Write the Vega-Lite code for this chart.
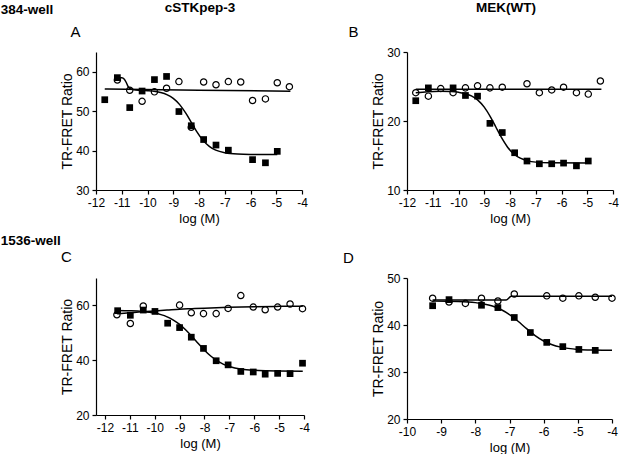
{
  "$schema": "https://vega.github.io/schema/vega-lite/v6.json",
  "background": "white",
  "padding": {"left": 0, "top": 0, "right": 0, "bottom": 0},
  "config": {
    "font": "Liberation Sans",
    "view": {"stroke": null},
    "axis": {"grid": false, "domainColor": "black", "tickColor": "black", "labelColor": "black", "titleColor": "black", "labelFontSize": 12, "titleFontWeight": "normal", "tickSize": 4, "domainWidth": 1.2, "tickWidth": 1.2, "labelPadding": 3, "labelFlush": false, "labelOverlap": false, "labelExpr": "toString(datum.value)"},
    "axisY": {"titlePadding": 1, "titleFontSize": 14},
    "axisX": {"titlePadding": 4, "titleFontSize": 13},
    "title": {"color": "black"}
  },
  "datasets": {
    "points": [
      {"panel": "A", "series": "sq", "x": -11.66, "y": 52.9},
      {"panel": "A", "series": "sq", "x": -11.17, "y": 58.5},
      {"panel": "A", "series": "sq", "x": -10.69, "y": 50.9},
      {"panel": "A", "series": "sq", "x": -10.21, "y": 55.1},
      {"panel": "A", "series": "sq", "x": -9.73, "y": 58.0},
      {"panel": "A", "series": "sq", "x": -9.26, "y": 58.8},
      {"panel": "A", "series": "sq", "x": -8.78, "y": 49.9},
      {"panel": "A", "series": "sq", "x": -8.30, "y": 46.3},
      {"panel": "A", "series": "sq", "x": -7.82, "y": 42.8},
      {"panel": "A", "series": "sq", "x": -7.34, "y": 41.4},
      {"panel": "A", "series": "sq", "x": -6.86, "y": 40.1},
      {"panel": "A", "series": "sq", "x": -5.92, "y": 37.7},
      {"panel": "A", "series": "sq", "x": -5.42, "y": 36.9},
      {"panel": "A", "series": "sq", "x": -4.96, "y": 39.8},
      {"panel": "A", "series": "ci", "x": -11.17, "y": 57.9},
      {"panel": "A", "series": "ci", "x": -10.69, "y": 55.3},
      {"panel": "A", "series": "ci", "x": -10.21, "y": 52.5},
      {"panel": "A", "series": "ci", "x": -9.73, "y": 54.9},
      {"panel": "A", "series": "ci", "x": -9.26, "y": 55.8},
      {"panel": "A", "series": "ci", "x": -8.78, "y": 57.5},
      {"panel": "A", "series": "ci", "x": -8.30, "y": 45.9},
      {"panel": "A", "series": "ci", "x": -7.82, "y": 57.4},
      {"panel": "A", "series": "ci", "x": -7.34, "y": 56.7},
      {"panel": "A", "series": "ci", "x": -6.86, "y": 57.5},
      {"panel": "A", "series": "ci", "x": -6.38, "y": 57.4},
      {"panel": "A", "series": "ci", "x": -5.92, "y": 52.7},
      {"panel": "A", "series": "ci", "x": -5.42, "y": 53.1},
      {"panel": "A", "series": "ci", "x": -4.96, "y": 57.2},
      {"panel": "A", "series": "ci", "x": -4.49, "y": 56.2},

      {"panel": "B", "series": "sq", "x": -11.66, "y": 22.94},
      {"panel": "B", "series": "sq", "x": -11.17, "y": 24.8},
      {"panel": "B", "series": "sq", "x": -10.21, "y": 24.8},
      {"panel": "B", "series": "sq", "x": -9.73, "y": 23.7},
      {"panel": "B", "series": "sq", "x": -9.26, "y": 23.6},
      {"panel": "B", "series": "sq", "x": -8.78, "y": 19.66},
      {"panel": "B", "series": "sq", "x": -8.30, "y": 18.33},
      {"panel": "B", "series": "sq", "x": -7.82, "y": 15.4},
      {"panel": "B", "series": "sq", "x": -7.34, "y": 14.2},
      {"panel": "B", "series": "sq", "x": -6.86, "y": 13.8},
      {"panel": "B", "series": "sq", "x": -6.38, "y": 13.8},
      {"panel": "B", "series": "sq", "x": -5.92, "y": 13.9},
      {"panel": "B", "series": "sq", "x": -5.42, "y": 13.5},
      {"panel": "B", "series": "sq", "x": -4.96, "y": 14.2},
      {"panel": "B", "series": "ci", "x": -11.66, "y": 24.1},
      {"panel": "B", "series": "ci", "x": -11.17, "y": 23.6},
      {"panel": "B", "series": "ci", "x": -10.69, "y": 24.7},
      {"panel": "B", "series": "ci", "x": -10.21, "y": 24.1},
      {"panel": "B", "series": "ci", "x": -9.73, "y": 24.8},
      {"panel": "B", "series": "ci", "x": -9.26, "y": 25.1},
      {"panel": "B", "series": "ci", "x": -8.78, "y": 24.8},
      {"panel": "B", "series": "ci", "x": -8.30, "y": 24.9},
      {"panel": "B", "series": "ci", "x": -7.34, "y": 25.4},
      {"panel": "B", "series": "ci", "x": -6.86, "y": 24.1},
      {"panel": "B", "series": "ci", "x": -6.38, "y": 24.5},
      {"panel": "B", "series": "ci", "x": -5.92, "y": 24.9},
      {"panel": "B", "series": "ci", "x": -5.42, "y": 24.1},
      {"panel": "B", "series": "ci", "x": -4.96, "y": 23.9},
      {"panel": "B", "series": "ci", "x": -4.49, "y": 25.8},

      {"panel": "C", "series": "sq", "x": -11.49, "y": 58.07},
      {"panel": "C", "series": "sq", "x": -10.98, "y": 56.4},
      {"panel": "C", "series": "sq", "x": -10.46, "y": 58.3},
      {"panel": "C", "series": "sq", "x": -9.99, "y": 57.8},
      {"panel": "C", "series": "sq", "x": -9.48, "y": 53.5},
      {"panel": "C", "series": "sq", "x": -9.0, "y": 51.9},
      {"panel": "C", "series": "sq", "x": -8.53, "y": 48.4},
      {"panel": "C", "series": "sq", "x": -8.04, "y": 44.3},
      {"panel": "C", "series": "sq", "x": -7.53, "y": 39.8},
      {"panel": "C", "series": "sq", "x": -7.05, "y": 38.3},
      {"panel": "C", "series": "sq", "x": -6.54, "y": 35.9},
      {"panel": "C", "series": "sq", "x": -6.04, "y": 35.7},
      {"panel": "C", "series": "sq", "x": -5.56, "y": 34.9},
      {"panel": "C", "series": "sq", "x": -5.06, "y": 35.2},
      {"panel": "C", "series": "sq", "x": -4.56, "y": 35.1},
      {"panel": "C", "series": "sq", "x": -4.06, "y": 38.9},
      {"panel": "C", "series": "ci", "x": -11.52, "y": 56.6},
      {"panel": "C", "series": "ci", "x": -10.98, "y": 53.4},
      {"panel": "C", "series": "ci", "x": -10.46, "y": 59.8},
      {"panel": "C", "series": "ci", "x": -9.0, "y": 60.1},
      {"panel": "C", "series": "ci", "x": -8.53, "y": 57.3},
      {"panel": "C", "series": "ci", "x": -8.04, "y": 57.0},
      {"panel": "C", "series": "ci", "x": -7.53, "y": 57.0},
      {"panel": "C", "series": "ci", "x": -7.05, "y": 58.9},
      {"panel": "C", "series": "ci", "x": -6.54, "y": 63.6},
      {"panel": "C", "series": "ci", "x": -6.04, "y": 59.4},
      {"panel": "C", "series": "ci", "x": -5.56, "y": 58.4},
      {"panel": "C", "series": "ci", "x": -5.06, "y": 59.4},
      {"panel": "C", "series": "ci", "x": -4.56, "y": 60.5},
      {"panel": "C", "series": "ci", "x": -4.06, "y": 58.8},

      {"panel": "D", "series": "sq", "x": -9.25, "y": 44.1},
      {"panel": "D", "series": "sq", "x": -8.77, "y": 45.4},
      {"panel": "D", "series": "sq", "x": -7.82, "y": 44.2},
      {"panel": "D", "series": "sq", "x": -7.34, "y": 43.7},
      {"panel": "D", "series": "sq", "x": -6.86, "y": 41.6},
      {"panel": "D", "series": "sq", "x": -6.39, "y": 38.4},
      {"panel": "D", "series": "sq", "x": -5.91, "y": 36.3},
      {"panel": "D", "series": "sq", "x": -5.44, "y": 35.4},
      {"panel": "D", "series": "sq", "x": -4.97, "y": 34.8},
      {"panel": "D", "series": "sq", "x": -4.49, "y": 34.6},
      {"panel": "D", "series": "ci", "x": -9.25, "y": 45.7},
      {"panel": "D", "series": "ci", "x": -8.77, "y": 44.9},
      {"panel": "D", "series": "ci", "x": -8.29, "y": 44.6},
      {"panel": "D", "series": "ci", "x": -7.82, "y": 45.7},
      {"panel": "D", "series": "ci", "x": -7.34, "y": 45.1},
      {"panel": "D", "series": "ci", "x": -6.86, "y": 46.6},
      {"panel": "D", "series": "ci", "x": -5.91, "y": 46.2},
      {"panel": "D", "series": "ci", "x": -5.44, "y": 45.7},
      {"panel": "D", "series": "ci", "x": -4.97, "y": 46.2},
      {"panel": "D", "series": "ci", "x": -4.49, "y": 45.9},
      {"panel": "D", "series": "ci", "x": -4.0, "y": 45.7}
    ],
    "curves": [
      {"panel": "A", "series": "ci", "x": -11.66, "y": 55.6},
      {"panel": "A", "series": "ci", "x": -8.0, "y": 55.3},
      {"panel": "A", "series": "ci", "x": -4.45, "y": 55.05},
      {"panel": "A", "series": "sq", "x": -11.17, "y": 58.5},
      {"panel": "A", "series": "sq", "x": -11.0, "y": 58.45},
      {"panel": "A", "series": "sq", "x": -10.9, "y": 58.1},
      {"panel": "A", "series": "sq", "x": -10.82, "y": 57.2},
      {"panel": "A", "series": "sq", "x": -10.75, "y": 56.2},
      {"panel": "A", "series": "sq", "x": -10.65, "y": 55.6},
      {"panel": "A", "series": "sq", "x": -10.45, "y": 55.35},
      {"panel": "A", "series": "sq", "x": -10.0, "y": 55.2},
      {"panel": "A", "series": "sq", "x": -9.5, "y": 54.73},
      {"panel": "A", "series": "sq", "x": -9.25, "y": 54.2},
      {"panel": "A", "series": "sq", "x": -9.0, "y": 53.24},
      {"panel": "A", "series": "sq", "x": -8.75, "y": 51.65},
      {"panel": "A", "series": "sq", "x": -8.5, "y": 49.35},
      {"panel": "A", "series": "sq", "x": -8.3, "y": 47.15},
      {"panel": "A", "series": "sq", "x": -8.1, "y": 44.95},
      {"panel": "A", "series": "sq", "x": -7.85, "y": 42.65},
      {"panel": "A", "series": "sq", "x": -7.6, "y": 41.06},
      {"panel": "A", "series": "sq", "x": -7.35, "y": 40.1},
      {"panel": "A", "series": "sq", "x": -7.0, "y": 39.44},
      {"panel": "A", "series": "sq", "x": -6.5, "y": 39.11},
      {"panel": "A", "series": "sq", "x": -6.0, "y": 39.03},
      {"panel": "A", "series": "sq", "x": -4.96, "y": 39.0},

      {"panel": "B", "series": "ci", "x": -11.66, "y": 24.6},
      {"panel": "B", "series": "ci", "x": -4.45, "y": 24.6},
      {"panel": "B", "series": "sq", "x": -11.66, "y": 24.1},
      {"panel": "B", "series": "sq", "x": -11.2, "y": 24.25},
      {"panel": "B", "series": "sq", "x": -10.7, "y": 24.32},
      {"panel": "B", "series": "sq", "x": -10.3, "y": 24.27},
      {"panel": "B", "series": "sq", "x": -10.0, "y": 24.16},
      {"panel": "B", "series": "sq", "x": -9.5, "y": 23.64},
      {"panel": "B", "series": "sq", "x": -9.25, "y": 23.03},
      {"panel": "B", "series": "sq", "x": -9.0, "y": 22.01},
      {"panel": "B", "series": "sq", "x": -8.75, "y": 20.53},
      {"panel": "B", "series": "sq", "x": -8.55, "y": 19.13},
      {"panel": "B", "series": "sq", "x": -8.35, "y": 17.72},
      {"panel": "B", "series": "sq", "x": -8.1, "y": 16.24},
      {"panel": "B", "series": "sq", "x": -7.85, "y": 15.22},
      {"panel": "B", "series": "sq", "x": -7.6, "y": 14.61},
      {"panel": "B", "series": "sq", "x": -7.3, "y": 14.22},
      {"panel": "B", "series": "sq", "x": -7.0, "y": 14.04},
      {"panel": "B", "series": "sq", "x": -6.5, "y": 13.94},
      {"panel": "B", "series": "sq", "x": -4.96, "y": 13.9},

      {"panel": "C", "series": "ci", "x": -11.5, "y": 56.9},
      {"panel": "C", "series": "ci", "x": -11.0, "y": 57.3},
      {"panel": "C", "series": "ci", "x": -10.5, "y": 57.7},
      {"panel": "C", "series": "ci", "x": -10.0, "y": 58.0},
      {"panel": "C", "series": "ci", "x": -9.5, "y": 58.3},
      {"panel": "C", "series": "ci", "x": -9.0, "y": 58.6},
      {"panel": "C", "series": "ci", "x": -8.5, "y": 58.8},
      {"panel": "C", "series": "ci", "x": -8.0, "y": 59.0},
      {"panel": "C", "series": "ci", "x": -7.0, "y": 59.3},
      {"panel": "C", "series": "ci", "x": -6.0, "y": 59.5},
      {"panel": "C", "series": "ci", "x": -5.0, "y": 59.65},
      {"panel": "C", "series": "ci", "x": -4.05, "y": 59.7},
      {"panel": "C", "series": "sq", "x": -11.5, "y": 58.13},
      {"panel": "C", "series": "sq", "x": -11.0, "y": 58.03},
      {"panel": "C", "series": "sq", "x": -10.5, "y": 57.79},
      {"panel": "C", "series": "sq", "x": -10.0, "y": 57.19},
      {"panel": "C", "series": "sq", "x": -9.75, "y": 56.63},
      {"panel": "C", "series": "sq", "x": -9.5, "y": 55.82},
      {"panel": "C", "series": "sq", "x": -9.25, "y": 54.65},
      {"panel": "C", "series": "sq", "x": -9.0, "y": 53.05},
      {"panel": "C", "series": "sq", "x": -8.75, "y": 51.01},
      {"panel": "C", "series": "sq", "x": -8.5, "y": 48.62},
      {"panel": "C", "series": "sq", "x": -8.25, "y": 46.08},
      {"panel": "C", "series": "sq", "x": -8.0, "y": 43.64},
      {"panel": "C", "series": "sq", "x": -7.75, "y": 41.52},
      {"panel": "C", "series": "sq", "x": -7.5, "y": 39.84},
      {"panel": "C", "series": "sq", "x": -7.25, "y": 38.58},
      {"panel": "C", "series": "sq", "x": -7.0, "y": 37.71},
      {"panel": "C", "series": "sq", "x": -6.5, "y": 36.71},
      {"panel": "C", "series": "sq", "x": -6.0, "y": 36.29},
      {"panel": "C", "series": "sq", "x": -5.5, "y": 36.12},
      {"panel": "C", "series": "sq", "x": -5.0, "y": 36.05},
      {"panel": "C", "series": "sq", "x": -4.05, "y": 36.0},

      {"panel": "D", "series": "ci", "x": -9.25, "y": 45.3},
      {"panel": "D", "series": "ci", "x": -7.1, "y": 45.3},
      {"panel": "D", "series": "ci", "x": -6.95, "y": 46.1},
      {"panel": "D", "series": "ci", "x": -4.0, "y": 46.1},
      {"panel": "D", "series": "sq", "x": -9.25, "y": 45.08},
      {"panel": "D", "series": "sq", "x": -8.5, "y": 44.99},
      {"panel": "D", "series": "sq", "x": -8.0, "y": 44.76},
      {"panel": "D", "series": "sq", "x": -7.75, "y": 44.49},
      {"panel": "D", "series": "sq", "x": -7.5, "y": 44.03},
      {"panel": "D", "series": "sq", "x": -7.25, "y": 43.29},
      {"panel": "D", "series": "sq", "x": -7.0, "y": 42.21},
      {"panel": "D", "series": "sq", "x": -6.75, "y": 40.79},
      {"panel": "D", "series": "sq", "x": -6.5, "y": 39.22},
      {"panel": "D", "series": "sq", "x": -6.25, "y": 37.75},
      {"panel": "D", "series": "sq", "x": -6.0, "y": 36.59},
      {"panel": "D", "series": "sq", "x": -5.75, "y": 35.79},
      {"panel": "D", "series": "sq", "x": -5.5, "y": 35.29},
      {"panel": "D", "series": "sq", "x": -5.0, "y": 34.81},
      {"panel": "D", "series": "sq", "x": -4.5, "y": 34.67},
      {"panel": "D", "series": "sq", "x": -4.0, "y": 34.62}
    ]
  },
  "spacing": 8,
  "vconcat": [
    {
      "title": {"text": "384-well", "anchor": "start", "frame": "bounds", "dx": -60, "offset": -16, "fontSize": 13.5, "fontWeight": "bold"},
      "spacing": 40,
      "hconcat": [
        {
          "width": 206, "height": 138,
          "title": {"text": "cSTKpep-3", "anchor": "middle", "frame": "group", "dx": 1, "fontSize": 13.5, "fontWeight": "bold", "offset": 10},
          "resolve": {"axis": {"x": "independent"}},
          "encoding": {
            "y": {"field": "y", "type": "quantitative", "scale": {"domain": [30, 65], "nice": false, "zero": false}, "axis": {"values": [30, 40, 50, 60], "title": "TR-FRET Ratio"}}
          },
          "layer": [
            {"data": {"name": "curves"}, "transform": [{"filter": "datum.panel === 'A'"}], "mark": {"type": "line", "color": "black", "strokeWidth": 1.5, "interpolate": "monotone"},
             "encoding": {"x": {"field": "x", "type": "quantitative", "scale": {"domain": [-12, -4], "nice": false, "zero": false}, "axis": {"values": [-12, -11, -10, -9, -8, -7, -6, -5, -4], "title": "log (M)"}}, "detail": {"field": "series"}}},
            {"data": {"name": "points"}, "transform": [{"filter": "datum.panel === 'A' && datum.series === 'sq'"}], "mark": {"type": "point", "shape": "square", "filled": true, "color": "black", "size": 45, "opacity": 1},
             "encoding": {"x": {"field": "x", "type": "quantitative", "scale": {"domain": [-12, -4], "nice": false, "zero": false}, "axis": null}}},
            {"data": {"name": "points"}, "transform": [{"filter": "datum.panel === 'A' && datum.series === 'ci'"}], "mark": {"type": "point", "shape": "circle", "filled": false, "color": "black", "strokeWidth": 1.2, "size": 40, "opacity": 1},
             "encoding": {"x": {"field": "x", "type": "quantitative", "scale": {"domain": [-12, -4], "nice": false, "zero": false}, "axis": {"orient": "top", "title": "A", "domain": false, "ticks": false, "labels": false, "titleAnchor": "start", "titleAlign": "left", "titleBaseline": "alphabetic", "titleX": -26, "titleY": -16, "titleFontSize": 15, "titleFontWeight": "normal", "titlePadding": 0}}}}
          ]
        },
        {
          "width": 206, "height": 138,
          "title": {"text": "MEK(WT)", "anchor": "middle", "frame": "group", "dx": -4, "fontSize": 13.5, "fontWeight": "bold", "offset": 10},
          "resolve": {"axis": {"x": "independent"}},
          "encoding": {
            "y": {"field": "y", "type": "quantitative", "scale": {"domain": [10, 30], "nice": false, "zero": false}, "axis": {"values": [10, 20, 30], "title": "TR-FRET Ratio"}}
          },
          "layer": [
            {"data": {"name": "curves"}, "transform": [{"filter": "datum.panel === 'B'"}], "mark": {"type": "line", "color": "black", "strokeWidth": 1.5, "interpolate": "monotone"},
             "encoding": {"x": {"field": "x", "type": "quantitative", "scale": {"domain": [-12, -4], "nice": false, "zero": false}, "axis": {"values": [-12, -11, -10, -9, -8, -7, -6, -5, -4], "title": "log (M)"}}, "detail": {"field": "series"}}},
            {"data": {"name": "points"}, "transform": [{"filter": "datum.panel === 'B' && datum.series === 'sq'"}], "mark": {"type": "point", "shape": "square", "filled": true, "color": "black", "size": 45, "opacity": 1},
             "encoding": {"x": {"field": "x", "type": "quantitative", "scale": {"domain": [-12, -4], "nice": false, "zero": false}, "axis": null}}},
            {"data": {"name": "points"}, "transform": [{"filter": "datum.panel === 'B' && datum.series === 'ci'"}], "mark": {"type": "point", "shape": "circle", "filled": false, "color": "black", "strokeWidth": 1.2, "size": 40, "opacity": 1},
             "encoding": {"x": {"field": "x", "type": "quantitative", "scale": {"domain": [-12, -4], "nice": false, "zero": false}, "axis": {"orient": "top", "title": "B", "domain": false, "ticks": false, "labels": false, "titleAnchor": "start", "titleAlign": "left", "titleBaseline": "alphabetic", "titleX": -59, "titleY": -16, "titleFontSize": 15, "titleFontWeight": "normal", "titlePadding": 0}}}}
          ]
        }
      ]
    },
    {
      "title": {"text": "1536-well", "anchor": "start", "frame": "bounds", "dx": -60, "offset": 3, "fontSize": 13.5, "fontWeight": "bold"},
      "spacing": 33,
      "hconcat": [
        {
          "width": 208, "height": 137,
          "title": {"text": "C", "anchor": "start", "frame": "group", "dx": -35, "fontSize": 15, "fontWeight": "normal", "offset": 13},
          "encoding": {
            "x": {"field": "x", "type": "quantitative", "scale": {"domain": [-12.36, -4], "nice": false, "zero": false}, "axis": {"values": [-12, -11, -10, -9, -8, -7, -6, -5, -4], "title": "log (M)"}},
            "y": {"field": "y", "type": "quantitative", "scale": {"domain": [20, 70], "nice": false, "zero": false}, "axis": {"values": [20, 40, 60], "title": "TR-FRET Ratio"}}
          },
          "layer": [
            {"data": {"name": "curves"}, "transform": [{"filter": "datum.panel === 'C'"}], "mark": {"type": "line", "color": "black", "strokeWidth": 1.5, "interpolate": "monotone"}, "encoding": {"detail": {"field": "series"}}},
            {"data": {"name": "points"}, "transform": [{"filter": "datum.panel === 'C' && datum.series === 'sq'"}], "mark": {"type": "point", "shape": "square", "filled": true, "color": "black", "size": 45, "opacity": 1}},
            {"data": {"name": "points"}, "transform": [{"filter": "datum.panel === 'C' && datum.series === 'ci'"}], "mark": {"type": "point", "shape": "circle", "filled": false, "color": "black", "strokeWidth": 1.2, "size": 40, "opacity": 1}}
          ]
        },
        {
          "width": 205, "height": 141,
          "title": {"text": "D", "anchor": "start", "frame": "group", "dx": -64, "fontSize": 15, "fontWeight": "normal", "offset": 6},
          "encoding": {
            "x": {"field": "x", "type": "quantitative", "scale": {"domain": [-10, -4], "nice": false, "zero": false}, "axis": {"values": [-10, -9, -8, -7, -6, -5, -4], "title": "log (M)"}},
            "y": {"field": "y", "type": "quantitative", "scale": {"domain": [20, 50], "nice": false, "zero": false}, "axis": {"values": [20, 30, 40, 50], "title": "TR-FRET Ratio"}}
          },
          "layer": [
            {"data": {"name": "curves"}, "transform": [{"filter": "datum.panel === 'D'"}], "mark": {"type": "line", "color": "black", "strokeWidth": 1.5, "interpolate": "monotone"}, "encoding": {"detail": {"field": "series"}}},
            {"data": {"name": "points"}, "transform": [{"filter": "datum.panel === 'D' && datum.series === 'sq'"}], "mark": {"type": "point", "shape": "square", "filled": true, "color": "black", "size": 45, "opacity": 1}},
            {"data": {"name": "points"}, "transform": [{"filter": "datum.panel === 'D' && datum.series === 'ci'"}], "mark": {"type": "point", "shape": "circle", "filled": false, "color": "black", "strokeWidth": 1.2, "size": 40, "opacity": 1}}
          ]
        }
      ]
    }
  ]
}
